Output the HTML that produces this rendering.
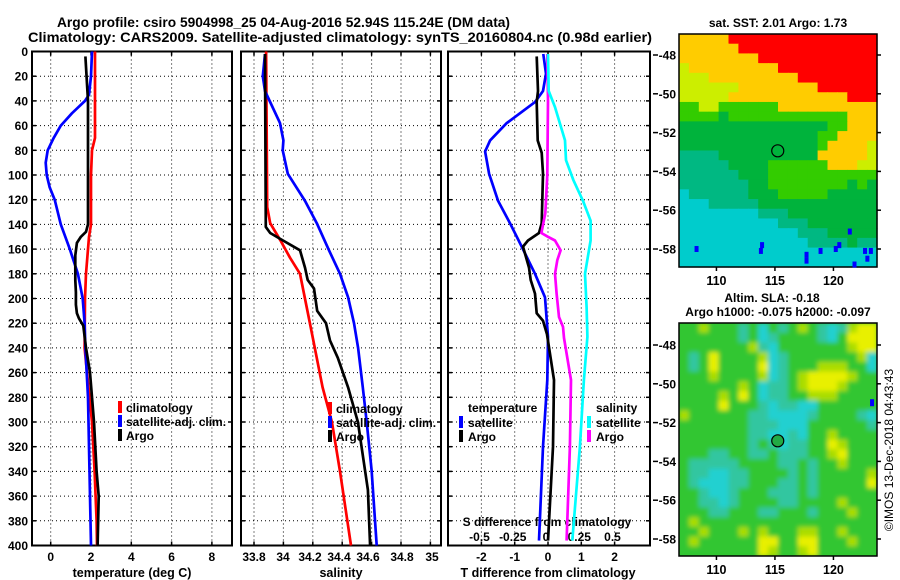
<!DOCTYPE html>
<html><head><meta charset="utf-8"><title>Argo profile</title>
<style>
html,body{margin:0;padding:0;background:#fff;}
svg{display:block;font-family:"Liberation Sans",Arial,sans-serif;font-weight:bold;}
</style></head>
<body>
<svg id="chart" width="900" height="580" viewBox="0 0 900 580" xmlns="http://www.w3.org/2000/svg">
<defs>
<filter id="soft" x="-5%" y="-5%" width="110%" height="110%"><feGaussianBlur stdDeviation="2.5"/></filter>
<clipPath id="slaClip"><rect x="679" y="323" width="198" height="233"/></clipPath>
</defs>
<rect x="0" y="0" width="900" height="580" fill="#fff"/>
<text x="57" y="27" font-size="14" textLength="453" lengthAdjust="spacingAndGlyphs">Argo profile: csiro 5904998_25 04-Aug-2016 52.94S 115.24E (DM data)</text>
<text x="28" y="42" font-size="14" textLength="624" lengthAdjust="spacingAndGlyphs">Climatology: CARS2009. Satellite-adjusted climatology: synTS_20160804.nc (0.98d earlier)</text>
<text x="778" y="27" font-size="12" text-anchor="middle">sat. SST: 2.01 Argo: 1.73</text>
<text x="772" y="302" font-size="12" text-anchor="middle">Altim. SLA: -0.18</text>
<text x="778" y="316" font-size="12" text-anchor="middle">Argo h1000: -0.075 h2000: -0.097</text>
<text transform="translate(893,450) rotate(-90)" font-size="12" font-weight="normal" text-anchor="middle">©IMOS 13-Dec-2018 04:43:43</text>
<g id="g"></g>
</svg>
<script>
const tClimDepth = [0,20,40,70,80,100,140,150,160,180,200,240,260,300,340,380,400];
const tClimVal   = [2.2,2.2,2.2,2.2,2.05,2.0,2.0,1.9,1.85,1.75,1.7,1.68,1.8,2.05,2.18,2.28,2.3];
const tSatDepth  = [0,20,35,40,50,60,70,80,90,100,110,120,140,160,180,200,220,240,280,320,360,400];
const tSatVal    = [2.05,2.0,1.9,1.7,1.05,0.5,0.15,-0.15,-0.25,-0.2,-0.05,0.2,0.5,0.95,1.35,1.59,1.68,1.72,1.85,1.9,1.95,2.0];
const tArgoDepth = [4,40,140,146,150,155,165,185,195,205,212,216,222,240,260,300,340,360,400];
const tArgoVal   = [1.72,1.85,1.85,1.75,1.5,1.3,1.22,1.22,1.25,1.25,1.3,1.4,1.62,1.75,1.95,2.15,2.28,2.38,2.33];

const sClimDepth = [0,126,139,153,167,180,220,272,300,340,400];
const sClimVal   = [33.882,33.89,33.91,33.98,34.045,34.113,34.18,34.267,34.33,34.385,34.46];
const sSatDepth  = [2,20,32,58,72,80,99,121,139,161,180,199,220,240,272,300,339,400];
const sSatVal    = [33.875,33.86,33.875,33.977,34.0,33.995,34.03,34.147,34.227,34.31,34.385,34.44,34.48,34.508,34.54,34.567,34.6,34.635];
const sArgoDepth = [2,142,147,153,161,175,185,192,210,220,234,248,272,300,339,355,400];
const sArgoVal   = [33.875,33.88,33.91,33.997,34.113,34.147,34.165,34.208,34.23,34.29,34.317,34.37,34.44,34.507,34.555,34.575,34.59];

const dTSatDepth = [2,18,32,41,58,72,81,99,121,139,158,180,199,231,266,320,396];
const dTSatVal   = [-0.14,-0.06,-0.15,-0.39,-1.24,-1.74,-1.89,-1.77,-1.5,-1.14,-0.79,-0.39,-0.09,0.0,-0.02,-0.15,-0.27];
const dTArgoDepth = [4,32,41,72,82,99,139,147,153,158,175,185,196,212,218,229,266,320,396];
const dTArgoVal   = [-0.34,-0.3,-0.34,-0.31,-0.19,-0.15,-0.19,-0.27,-0.6,-0.75,-0.57,-0.52,-0.39,-0.34,-0.15,-0.03,0.18,0.15,0.0];
const dSArgoDepth = [2,40,100,131,147,150,153,161,169,180,196,215,223,232,266,320,396];
const dSArgoVal   = [-0.005,0.0,-0.005,-0.02,-0.05,0.0,0.053,0.095,0.07,0.053,0.065,0.083,0.113,0.12,0.173,0.165,0.14];
const dSSatDepth = [2,32,45,72,88,104,121,137,153,180,207,231,266,320,396];
const dSSatVal   = [0.0,0.005,0.053,0.128,0.135,0.19,0.263,0.32,0.32,0.278,0.29,0.296,0.27,0.24,0.183];

const depthTicks = [0,20,40,60,80,100,120,140,160,180,200,220,240,260,280,300,320,340,360,380,400];
const tempTicks = [0,2,4,6,8];
const salTicks = [33.8,34,34.2,34.4,34.6,34.8,35];
const salTickLabelX = [254,283,310,339,368,402,432];
const dTTicks = [-2,-1,0,1,2];
const dSTicks = [-0.5,-0.25,0,0.25,0.5];
const dSTickLabelText = ["-0.5","-0.25","0","0.25","0.5"];

const latTicks = [-48,-50,-52,-54,-56,-58];
const lonTicks = [110,115,120];
const argoLon = 115.24, argoLat = -52.94;
const sstGrid = [
"OOOOORRRRRRRRRRRRRRR",
"OOOOOORRRRRRRRRRRRRR",
"OOOOOOOORRRRRRRRRRRR",
"YOOOOOOOOORRRRRRRRRR",
"YYYOOOOOOOOORRRRRRRR",
"YYYYYYOOOOOOOORRRRRR",
"YYYYYOOOOOOOOOOOORRR",
"LLYYLLLLLLOOOOOOOOOO",
"LLLLGLLLLLLLLLLLLOOO",
"GGGGGGGGGGGGGGGLLOOO",
"GGGGGGGGGGGGGGLLOOOO",
"GGGGGGGGGGGGGGLOOOOY",
"TTTTGGGGGGGGGGOOOOOY",
"TTTTTGGGGLLLLLLOOOYY",
"TTTTTTGGGLLLLLLLLLLL",
"TTTTTTTGGLLLLLLLLGLG",
"CTTTTTTGGGLLLLLGGGGG",
"CCCTTTTTGGGGGGGGGGGG",
"CCCCCCCCTTTGGGGGGGGG",
"CCCCCCCCCCTTTGGGGGGG",
"CCCCCCCCCCCCTTTGGGGG",
"CCCCCCCCCCCCCTTTTGTT",
"CCCCCCCCCCCCCCCCCCCC",
"CCCCCCCCCCCCCCCCCCCC"];
const slaGrid = [
"GGLGGGTGCGTGLGTCTLYY",
"GGGGGGTGCTGGGGTCGYYY",
"GGGGGGGLTCGGGGGGGLYY",
"GTGYGGGGLCTGGGGGGGLC",
"GTGYGGGGYCTGGGLLLGGC",
"GGGLGGGGLCTGLYYYYLGG",
"GGGGGGLGCTTGLYYYLGGG",
"GGGGLGYGCTTGGLLLGGGG",
"GGGGYGGGTCTTCCGGGGGG",
"LGGGGGGTTCCCCTGGGGTC",
"GGGGGGGTTTCCCGGGGGGT",
"GGGGGGGTTCCTCGGLGGGG",
"GGGGGGGTGTCTTGGYLGGG",
"GGGTTGGTTGTTTGGLYGGG",
"GTTTTTGGGGTTGTGGLGGG",
"GTTCCTTGGGGTGTGGGGGL",
"GTCCCTTGGGTTGTGGGGGY",
"GGTCCTGGGTTTGTGGGGGG",
"GGTTCTGGGGTTGGGGLGGG",
"GGGTTGGGTTGGGTGGGLGG",
"GLGGGGGGGGGGGGGGGGGG",
"GGLGGGLGLGGGLLGGLGGG",
"GLGGGGGGYYGGYYGGGLGG",
"GGGGGGGGYLGGLYGGGGGG"];
const sstBlueLon = [108.3,113.9,113.8,117.7,117.7,118.9,120.2,120.5,121.4,121.8,122.7,123.2,122.9];
const sstBlueLat = [-58.0,-57.8,-58.1,-58.3,-58.6,-58.1,-58.0,-57.8,-57.1,-58.8,-58.1,-58.1,-58.5];

const NS = "http://www.w3.org/2000/svg";
const g = document.getElementById("g");
function el(tag, attrs, parent) {
  const e = document.createElementNS(NS, tag);
  for (const k in attrs) e.setAttribute(k, attrs[k]);
  (parent || g).appendChild(e);
  return e;
}
const Y0 = 51.5, YS = 1.235;
const yD = d => Y0 + d * YS;
const xT = t => 50.7 + 20.15 * t;
const xS = s => 254 + (s - 33.8) * 147;
const xDT = t => 548 + 33.3 * t;
const xDS = s => 548 + 133 * s;

function drawFrame(x0, x1, name, xs) {
  const fg = el("g", {});
  
  
  depthTicks.forEach(d => {
    if (d > 0 && d < 400) el("line", {x1:x0, x2:x1, y1:yD(d), y2:yD(d), stroke:"#000", "stroke-width":1, "stroke-dasharray":"1,3"}, fg);
    el("line", {x1:x0, x2:x0+4, y1:yD(d), y2:yD(d), stroke:"#000", "stroke-width":1.5}, fg);
    el("line", {x1:x1-4, x2:x1, y1:yD(d), y2:yD(d), stroke:"#000", "stroke-width":1.5}, fg);
  });
  xs.forEach(x => {
    el("line", {x1:x, x2:x, y1:yD(0), y2:yD(400), stroke:"#000", "stroke-width":1, "stroke-dasharray":"1,3"}, fg);
    el("line", {x1:x, x2:x, y1:yD(0), y2:yD(0)+4, stroke:"#000", "stroke-width":1.5}, fg);
    el("line", {x1:x, x2:x, y1:yD(400)-4, y2:yD(400), stroke:"#000", "stroke-width":1.5}, fg);
  });
  el("rect", {x:x0, y:yD(0), width:x1-x0, height:yD(400)-yD(0), fill:"none", stroke:"#000", "stroke-width":2}, fg);
  return fg;
}
function drawLine(depths, vals, xf, color, name) {
  const pts = depths.map((d, i) => xf(vals[i]).toFixed(1) + "," + yD(d).toFixed(1)).join(" ");
  const p = el("polyline", {points:pts, fill:"none", stroke:color, "stroke-width":2.7, "stroke-linejoin":"round"});
  
  
}
function txt(x, y, s, size, anchor, name) {
  const t = el("text", {x:x, y:y, "font-size":size, "text-anchor":anchor || "start"});
  t.textContent = s;
  
  
  return t;
}
function marker(x, yc, color, name) {
  const r = el("rect", {x:x-2, y:yc-6, width:4, height:12, fill:color});
  
  
}

drawFrame(32, 232, "temperature-panel-frame", tempTicks.map(xT));
depthTicks.forEach(d => {
  txt(28, yD(d) + 4.5, String(d), 12, "end", "depth-tick-label");
});
tempTicks.forEach(t => txt(xT(t), 561, String(t), 12, "middle", "temperature-tick-label"));
txt(132, 577, "temperature (deg C)", 12.5, "middle", "temperature-axis-title");
drawLine(tClimDepth, tClimVal, xT, "#ff0000", "temperature-climatology-line");
drawLine(tSatDepth, tSatVal, xT, "#0000ff", "temperature-satellite-line");
drawLine(tArgoDepth, tArgoVal, xT, "#000000", "temperature-argo-line");
marker(120, 407, "#ff0000", "legend-climatology-marker");
marker(120, 421, "#0000ff", "legend-satellite-marker");
marker(120, 435, "#000", "legend-argo-marker");
txt(126, 412, "climatology", 12, "start", "legend-climatology");
txt(126, 426, "satellite-adj. clim.", 12, "start", "legend-satellite");
txt(126, 440, "Argo", 12, "start", "legend-argo");

drawFrame(241, 441, "salinity-panel-frame", salTicks.map(xS));
salTicks.forEach((s, i) => txt(salTickLabelX[i], 561, String(s), 12, "middle", "salinity-tick-label"));
txt(341, 577, "salinity", 12.5, "middle", "salinity-axis-title");
drawLine(sClimDepth, sClimVal, xS, "#ff0000", "salinity-climatology-line");
drawLine(sSatDepth, sSatVal, xS, "#0000ff", "salinity-satellite-line");
drawLine(sArgoDepth, sArgoVal, xS, "#000000", "salinity-argo-line");
marker(330, 408, "#ff0000", "legend-climatology-marker-2");
marker(330, 422, "#0000ff", "legend-satellite-marker-2");
marker(330, 436, "#000", "legend-argo-marker-2");
txt(336, 413, "climatology", 12, "start", "legend-climatology-2");
txt(336, 427, "satellite-adj. clim.", 12, "start", "legend-satellite-2");
txt(336, 441, "Argo", 12, "start", "legend-argo-2");

drawFrame(448, 650, "difference-panel-frame", dTTicks.map(xDT));
dTTicks.forEach(t => txt(xDT(t), 561, String(t), 12, "middle", "t-difference-tick-label"));
txt(548, 577, "T difference from climatology", 12.5, "middle", "t-difference-axis-title");
dSTicks.forEach((s, i) => txt(xDS(s) - 2, 541, dSTickLabelText[i], 12, "middle", "s-difference-tick-label"));
txt(547, 526, "S difference from climatology", 12, "middle", "s-difference-axis-title");
drawLine(dTSatDepth, dTSatVal, xDT, "#0000ff", "t-diff-satellite-line");
drawLine(dTArgoDepth, dTArgoVal, xDT, "#000000", "t-diff-argo-line");
drawLine(dSArgoDepth, dSArgoVal, xDS, "#ff00ff", "s-diff-argo-line");
drawLine(dSSatDepth, dSSatVal, xDS, "#00ffff", "s-diff-satellite-line");
txt(468, 412, "temperature", 12, "start", "legend-temperature-heading");
marker(461, 422, "#0000ff", "legend-t-satellite-marker");
marker(461, 436, "#000", "legend-t-argo-marker");
txt(468, 427, "satellite", 12, "start", "legend-t-satellite");
txt(468, 441, "Argo", 12, "start", "legend-t-argo");
txt(596, 412, "salinity", 12, "start", "legend-salinity-heading");
marker(589, 422, "#00ffff", "legend-s-satellite-marker");
marker(589, 436, "#ff00ff", "legend-s-argo-marker");
txt(596, 427, "satellite", 12, "start", "legend-s-satellite");
txt(596, 441, "Argo", 12, "start", "legend-s-argo");

const MX0 = 679, MX1 = 877, LON0 = 106.8, LONS = 11.7, LATS = 19.4;
const mx = lon => MX0 + (lon - LON0) * LONS;
const sstColors = {R:"#ff0000", O:"#ffcc00", Y:"#ccee00", L:"#33cc00", G:"#00b33c", T:"#00b882", C:"#00cccc"};
const slaColors = {G:"#33c633", T:"#33c6a0", C:"#22d0d0", Y:"#e8f000", L:"#aadd00"};
function drawMap(grid, colors, top, bottom, lat48y, name, circleFill, smooth) {
  const my = lat => lat48y + (-48 - lat) * LATS;
  const mg = el("g", {});
  
  
  let cellParent = mg;
  if (smooth) {
    const clip = el("g", {"clip-path":"url(#slaClip)"}, mg);
    el("rect", {x:MX0, y:top, width:MX1 - MX0, height:bottom - top, fill:"#33c633"}, clip);
    cellParent = el("g", {filter:"url(#soft)"}, clip);
  }
  const rows = grid.length, cols = grid[0].length;
  const cw = (MX1 - MX0) / cols, ch = (bottom - top) / rows;
  grid.forEach((row, r) => {
    for (let c = 0; c < cols; c++) {
      el("rect", {x:(MX0 + c * cw).toFixed(2), y:(top + r * ch).toFixed(2), width:(cw + 0.6).toFixed(2), height:(ch + 0.6).toFixed(2), fill:colors[row[c]]}, cellParent);
    }
  });
  el("rect", {x:MX0, y:top, width:MX1 - MX0, height:bottom - top, fill:"none", stroke:"#000", "stroke-width":1.5}, mg);
  latTicks.forEach(lat => {
    const y = my(lat);
    el("line", {x1:MX1, x2:MX1 + 4, y1:y, y2:y, stroke:"#000", "stroke-width":1.5}, mg);
    el("line", {x1:653, x2:658, y1:y, y2:y, stroke:"#000", "stroke-width":1.5}, mg);
    txt(676, y + 4.5, String(lat), 12, "end", "latitude-tick-label");
  });
  lonTicks.forEach(lon => {
    el("line", {x1:mx(lon), x2:mx(lon), y1:bottom, y2:bottom + 4, stroke:"#000", "stroke-width":1.5}, mg);
    txt(mx(lon), bottom + 18, String(lon), 12.5, "middle", "longitude-tick-label");
  });
  const c = el("circle", {cx:mx(argoLon), cy:my(argoLat), r:6, fill:circleFill, stroke:"#000", "stroke-width":1.2});
  
  
  return my;
}
const my1 = drawMap(sstGrid, sstColors, 34, 267, 55, "sst-map", "none", false);
sstBlueLon.forEach((lon, i) => {
  const b = el("rect", {x:mx(lon) - 2, y:my1(sstBlueLat[i]) - 3, width:4, height:6, fill:"#0000ff"});
  
  
});
const my2 = drawMap(slaGrid, slaColors, 323, 556, 345, "sla-map", "#22aa44", true);
const bb = el("rect", {x:mx(123.3) - 2, y:my2(-51) - 4, width:4, height:7, fill:"#0000ff"});


</script>
</body></html>
